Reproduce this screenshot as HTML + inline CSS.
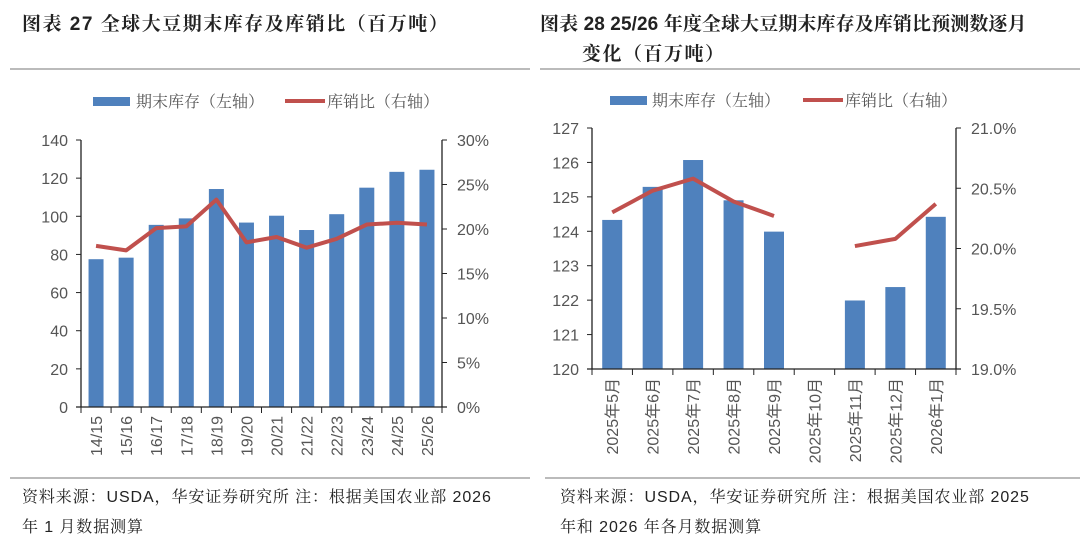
<!DOCTYPE html>
<html><head><meta charset="utf-8"><style>
body{margin:0;background:#fff;width:1080px;height:546px;overflow:hidden;font-family:"Liberation Sans","Noto Sans CJK SC",sans-serif}
svg text{font-family:"Liberation Sans","Noto Sans CJK SC",sans-serif}
svg text.cn{font-family:"Liberation Sans","Noto Serif CJK SC",serif}
</style></head><body>
<svg id="s" width="1080" height="546" xmlns="http://www.w3.org/2000/svg">
<text class="cn" x="22" y="30" font-size="19" font-weight="bold" fill="#222" letter-spacing="1.5">图表 27 全球大豆期末库存及库销比（百万吨）</text>
<line x1="10" y1="69" x2="530" y2="69" stroke="#777" stroke-width="1"/>
<text class="cn" x="540" y="30" font-size="19" font-weight="bold" fill="#222" letter-spacing="0.1">图表 28 25/26 年度全球大豆期末库存及库销比预测数逐月</text>
<text class="cn" x="582" y="60" font-size="19" font-weight="bold" fill="#222" letter-spacing="1.5">变化（百万吨）</text>
<line x1="540" y1="69" x2="1080" y2="69" stroke="#777" stroke-width="1"/>
<g>
<rect x="93" y="97" width="37" height="9" fill="#4f81bd"/>
<text class="cn" x="136" y="107" font-size="16" fill="#555">期末库存（左轴）</text>
<line x1="285" y1="101" x2="325" y2="101" stroke="#c0504d" stroke-width="4"/>
<text class="cn" x="327" y="107" font-size="16" fill="#555">库销比（右轴）</text>
</g>
<g>
<rect x="610" y="96" width="37" height="9" fill="#4f81bd"/>
<text class="cn" x="652" y="106" font-size="16" fill="#555">期末库存（左轴）</text>
<line x1="803" y1="100" x2="843" y2="100" stroke="#c0504d" stroke-width="4"/>
<text class="cn" x="845" y="106" font-size="16" fill="#555">库销比（右轴）</text>
</g>
<line x1="10" y1="478" x2="530" y2="478" stroke="#777"/>
<line x1="545" y1="478" x2="1080" y2="478" stroke="#777"/>
<text class="cn" x="22" y="502" font-size="16" fill="#222" letter-spacing="0.9">资料来源：USDA，华安证券研究所 注：根据美国农业部 2026</text>
<text class="cn" x="22" y="532" font-size="16" fill="#222" letter-spacing="0.9">年 1 月数据测算</text>
<text class="cn" x="560" y="502" font-size="16" fill="#222" letter-spacing="0.9">资料来源：USDA，华安证券研究所 注：根据美国农业部 2025</text>
<text class="cn" x="560" y="532" font-size="16" fill="#222" letter-spacing="0.9">年和 2026 年各月数据测算</text>
</svg>
<script>
const cats1=["14/15","15/16","16/17","17/18","18/19","19/20","20/21","21/22","22/23","23/24","24/25","25/26"];
const stock1=[77.5,78.3,95.5,98.9,114.3,96.7,100.3,92.8,101.1,115.0,123.3,124.4];
const ratio1=[18.1,17.6,20.1,20.3,23.3,18.5,19.1,17.9,18.9,20.5,20.7,20.5];
const ticksL1=[0,20,40,60,80,100,120,140];
const ticksR1=[0,5,10,15,20,25,30];
const cats2=["2025年5月","2025年6月","2025年7月","2025年8月","2025年9月","2025年10月","2025年11月","2025年12月","2026年1月"];
const stock2=[124.33,125.29,126.07,124.9,123.99,null,121.99,122.38,124.42];
const ratio2=[20.30,20.48,20.58,20.39,20.27,null,20.02,20.08,20.37];
const ticksL2=[120,121,122,123,124,125,126,127];
const ticksR2=[19.0,19.5,20.0,20.5,21.0];
const S=document.getElementById('s');const NS="http://www.w3.org/2000/svg";
function mk(t,a,txt){const e=document.createElementNS(NS,t);for(const k in a)e.setAttribute(k,a[k]);if(txt!==undefined)e.textContent=txt;S.appendChild(e);return e;}
function chart(o){
 const {x0,x1,y0,y1,cats,stock,ratio,tl,tr,lmin,lmax,rmin,rmax,bw,rfmt,p}=o;
 const n=cats.length,step=(x1-x0)/n;
 const xc=i=>x0+step*(i+0.5);
 const yl=v=>y1-(v-lmin)/(lmax-lmin)*(y1-y0);
 const yr=v=>y1-(v-rmin)/(rmax-rmin)*(y1-y0);
 stock.forEach((v,i)=>{if(v==null)return;
  const r=mk('rect',{x:xc(i)-bw/2,y:yl(v),width:bw,height:y1-yl(v),fill:'#4f81bd'});
  
  });
 let d='',pen=false;
 ratio.forEach((v,i)=>{if(v==null){pen=false;return;}d+=(pen?'L':'M')+xc(i)+' '+yr(v)+' ';pen=true;});
 const l=mk('path',{d:d,fill:'none',stroke:'#c0504d','stroke-width':4,'stroke-linejoin':'round'});
 
 
 mk('line',{x1:x0,y1:y0,x2:x0,y2:y1,stroke:'#222','stroke-width':1.3});
 mk('line',{x1:x1,y1:y0,x2:x1,y2:y1,stroke:'#222','stroke-width':1.3});
 mk('line',{x1:x0-5,y1:y1,x2:x1+5,y2:y1,stroke:'#222','stroke-width':1.3});
 tl.forEach(v=>{mk('line',{x1:x0-5,y1:yl(v),x2:x0,y2:yl(v),stroke:'#222'});
  const t=mk('text',{x:x0-13,y:yl(v)+6,'font-size':16,fill:'#555','text-anchor':'end'},String(v));
  
  });
 tr.forEach(v=>{mk('line',{x1:x1,y1:yr(v),x2:x1+5,y2:yr(v),stroke:'#222'});
  const t=mk('text',{x:x1+15,y:yr(v)+6,'font-size':16,fill:'#555'},rfmt(v));
  
  });
 for(let i=0;i<=n;i++)mk('line',{x1:x0+step*i,y1:y1,x2:x0+step*i,y2:y1+6,stroke:'#222'});
 cats.forEach((c,i)=>{const t=mk('text',{x:0,y:0,'font-size':16,fill:'#555','text-anchor':'end',transform:`translate(${xc(i)+6},${y1+9}) rotate(-90)`},c);
  
  });
}
chart({x0:81,x1:442,y0:140,y1:407,cats:cats1,stock:stock1,ratio:ratio1,tl:ticksL1,tr:ticksR1,lmin:0,lmax:140,rmin:0,rmax:30,bw:15,rfmt:v=>v+'%',p:'left-'});
chart({x0:592,x1:956,y0:128,y1:369,cats:cats2,stock:stock2,ratio:ratio2,tl:ticksL2,tr:ticksR2,lmin:120,lmax:127,rmin:19,rmax:21,bw:20,rfmt:v=>v.toFixed(1)+'%',p:'right-'});
</script>
</body></html>
